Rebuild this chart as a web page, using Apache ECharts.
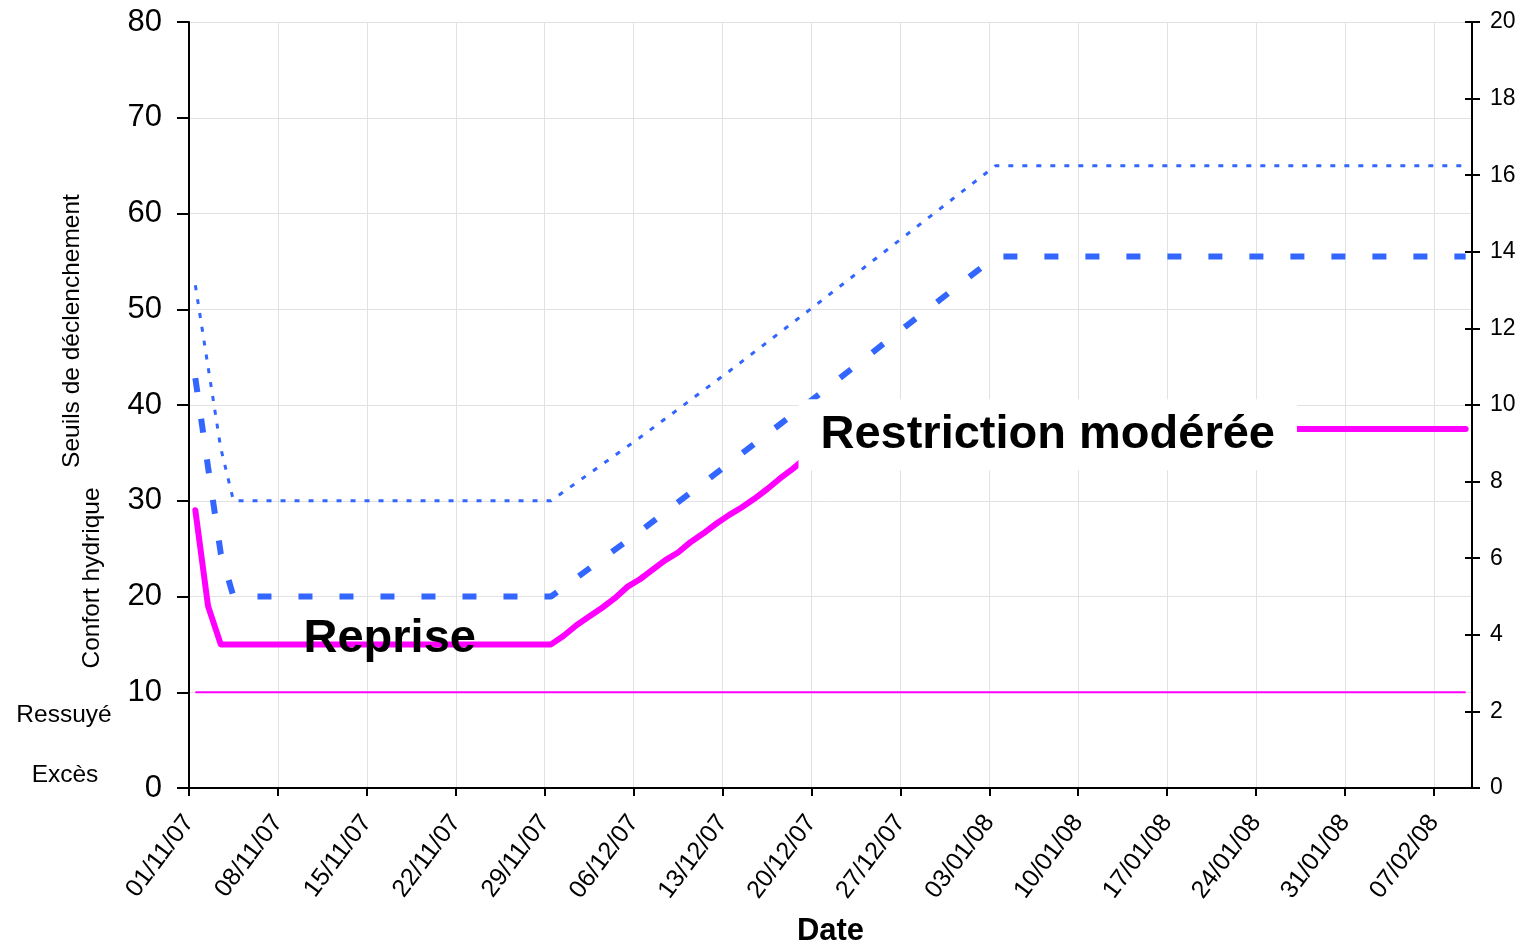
<!DOCTYPE html>
<html>
<head>
<meta charset="utf-8">
<title>Seuils de déclenchement</title>
<script src="https://cdn.jsdelivr.net/npm/echarts@6/dist/echarts.min.js"></script>
<style>
  html, body { margin: 0; padding: 0; background: #fff; }
  #chart { width: 1526px; height: 946px; }
</style>
</head>
<body>
<div id="chart"></div>
<script>
const FONT = '"Liberation Sans", Arial, sans-serif';
const startDate = "2007-11-01";

// upper trigger threshold (thin dotted blue)
const upperDates = ["2007-11-01", "2007-11-02", "2007-11-03", "2007-11-04", "2007-11-29",
  "2007-12-06", "2007-12-13", "2007-12-20", "2007-12-27", "2008-01-03", "2008-02-09"];
const upperValues = [52.5, 44, 35.5, 30, 30, 36.6, 43.5, 50.6, 57.8, 65, 65];

// lower trigger threshold (thick dashed blue)
const lowerDates = ["2007-11-01", "2007-11-02", "2007-11-03", "2007-11-04", "2007-11-29",
  "2007-12-06", "2007-12-13", "2007-12-20", "2007-12-27", "2008-01-03", "2008-02-09"];
const lowerValues = [42.8, 33.5, 24.5, 20, 20, 26.8, 33.9, 41, 48.3, 55.5, 55.5];

// soil water state (thick magenta)
const stateDates = ["2007-11-01", "2007-11-02", "2007-11-03", "2007-11-29",
  "2007-11-30", "2007-12-01", "2007-12-02", "2007-12-03", "2007-12-04", "2007-12-05",
  "2007-12-06", "2007-12-07", "2007-12-08", "2007-12-09", "2007-12-10", "2007-12-11",
  "2007-12-12", "2007-12-13", "2007-12-14", "2007-12-15", "2007-12-16", "2007-12-17",
  "2007-12-18", "2007-12-19", "2007-12-20", "2007-12-21", "2007-12-22", "2008-02-09"];
const stateValues = [29, 19, 15, 15,
  15.9, 17.0, 17.9, 18.8, 19.8, 21.0,
  21.8, 22.8, 23.8, 24.6, 25.7, 26.6,
  27.6, 28.5, 29.3, 30.2, 31.2, 32.3,
  33.3, 34.4, 35.5, 36.5, 37.5, 37.5];

// "ressuyé" limit (thin magenta)
const drainedDates = ["2007-11-01", "2008-02-09"];
const drainedValues = [10, 10];

const leftTicks = { min: 0, max: 80, step: 10 };
const rightTicks = { min: 0, max: 20, step: 2 };
const dayTicks = { min: 0, max: 101, step: 7 };

const DAY = 86400000;
const t0 = new Date(startDate).getTime();
const dayOf = (d) => (new Date(d).getTime() - t0) / DAY;
// Excel draws each daily point in the middle of its day
const pairs = (dates, values) => dates.map((d, i) => [dayOf(d) + 0.5, values[i]]);

const pad = (n) => String(n).padStart(2, "0");
const dateLabel = (v) => {
  if (v % 7 !== 0) return "";
  const d = new Date(t0 + v * DAY);
  return pad(d.getUTCDate()) + "/" + pad(d.getUTCMonth() + 1) + "/" + pad(d.getUTCFullYear() % 100);
};

const chart = echarts.init(document.getElementById("chart"), null, { renderer: "canvas" });

const sideText = (text, x, y, rotated) => ({
  type: "text",
  x,
  y,
  rotation: rotated ? Math.PI / 2 : 0,
  style: {
    text,
    font: "24.5px " + FONT,
    fill: "#000",
    textAlign: "center",
    textVerticalAlign: "middle",
  },
});

const option = {
  animation: false,
  backgroundColor: "#fff",
  grid: { left: 189, right: 54, top: 22, bottom: 158, outerBoundsMode: "none", containLabel: false },
  xAxis: {
    type: "value",
    min: dayTicks.min,
    max: dayTicks.max,
    interval: dayTicks.step,
    name: "Date",
    nameLocation: "middle",
    nameGap: 128,
    nameTextStyle: { fontFamily: FONT, fontSize: 31, fontWeight: "bold", color: "#000" },
    axisLine: { lineStyle: { color: "#000", width: 2 } },
    axisTick: { length: 8, lineStyle: { color: "#000", width: 2 } },
    axisLabel: {
      formatter: dateLabel,
      rotate: 53,
      margin: 30,
      fontFamily: FONT,
      fontSize: 25,
      color: "#000",
      showMaxLabel: false,
    },
    splitLine: { lineStyle: { color: "#e2e2e2", width: 1 } },
  },
  yAxis: [
    {
      type: "value",
      min: leftTicks.min,
      max: leftTicks.max,
      interval: leftTicks.step,
      position: "left",
      axisLine: { show: true, lineStyle: { color: "#000", width: 2 } },
      axisTick: { show: true, length: 12, lineStyle: { color: "#000", width: 2 } },
      axisLabel: { margin: 27, fontFamily: FONT, fontSize: 31, color: "#000" },
      splitLine: { lineStyle: { color: "#e2e2e2", width: 1 } },
    },
    {
      type: "value",
      min: rightTicks.min,
      max: rightTicks.max,
      interval: rightTicks.step,
      position: "right",
      axisLine: { show: true, lineStyle: { color: "#000", width: 2 } },
      axisTick: { show: true, length: 8, lineStyle: { color: "#000", width: 2 } },
      axisLabel: { margin: 18, fontFamily: FONT, fontSize: 23, color: "#000" },
      splitLine: { show: false },
    },
    {
      // inner half of the crossing ticks on the right axis
      type: "value",
      min: rightTicks.min,
      max: rightTicks.max,
      interval: rightTicks.step,
      position: "right",
      axisLine: { show: false },
      axisTick: { show: true, inside: true, length: 7, lineStyle: { color: "#000", width: 2 } },
      axisLabel: { show: false },
      splitLine: { show: false },
    },
  ],
  series: [
    {
      name: "Ressuyé",
      type: "line",
      data: pairs(drainedDates, drainedValues),
      symbol: "none",
      lineStyle: { color: "#ff00ff", width: 2 },
      z: 2,
    },
    {
      name: "Seuil haut",
      type: "line",
      data: pairs(upperDates, upperValues),
      symbol: "none",
      lineStyle: { color: "#3366ff", width: 3, type: [5, 9] },
      z: 3,
    },
    {
      name: "Seuil bas",
      type: "line",
      data: pairs(lowerDates, lowerValues),
      symbol: "none",
      lineStyle: { color: "#3366ff", width: 6, type: [14, 27] },
      z: 3,
    },
    {
      name: "Etat hydrique",
      type: "line",
      data: pairs(stateDates, stateValues),
      symbol: "none",
      lineStyle: { color: "#ff00ff", width: 6, cap: "round", join: "round" },
      z: 4,
    },
    {
      name: "annotations",
      type: "scatter",
      symbolSize: 0,
      silent: true,
      z: 10,
      itemStyle: { opacity: 1 },
      data: [
        {
          value: [15.8, 15.6],
          label: { formatter: "Reprise" },
        },
        {
          value: [67.6, 36.9],
          label: {
            formatter: "Restriction modérée",
            backgroundColor: "#fff",
            padding: [12, 22, 12, 22],
          },
        },
      ],
      label: {
        show: true,
        position: "inside",
        fontFamily: FONT,
        fontSize: 47,
        fontWeight: "bold",
        color: "#000",
        opacity: 1,
      },
    },
  ],
  graphic: [
    sideText("Seuils de déclenchement", 72, 331, true),
    sideText("Confort hydrique", 92, 578, true),
    sideText("Ressuyé", 64, 715, false),
    sideText("Excès", 65, 775, false),
  ],
};

chart.setOption(option);
</script>
</body>
</html>
